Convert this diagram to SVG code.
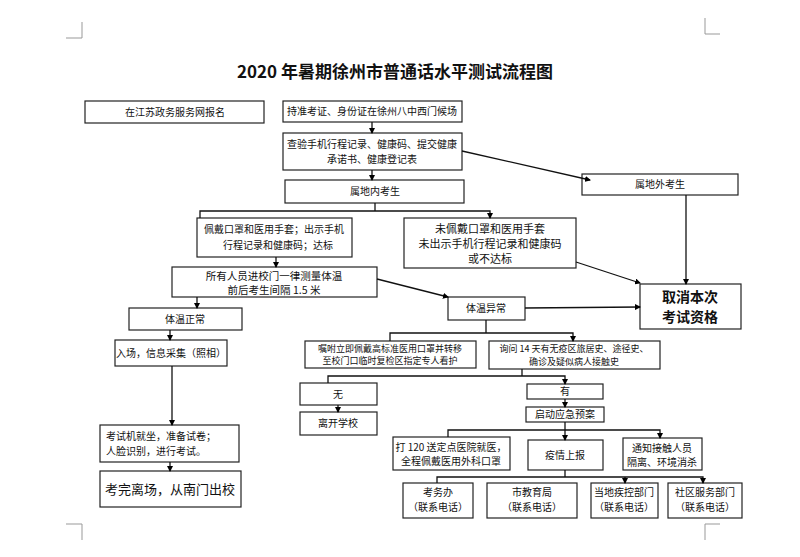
<svg xmlns="http://www.w3.org/2000/svg" width="800" height="557" viewBox="0 0 800 557">
<defs>
<marker id="ah" markerWidth="6" markerHeight="6" refX="5" refY="3" orient="auto" markerUnits="userSpaceOnUse"><path d="M0,0 L6,3 L0,6 z" fill="#000"/></marker>
<style>
rect{fill:#fff;stroke:#222;stroke-width:1.2}
text{font-family:"Noto Sans CJK SC","Liberation Sans",sans-serif;font-size:10px;fill:#111;text-anchor:middle}
.c line,.c polyline{stroke:#111;stroke-width:1.3;fill:none}
.a{marker-end:url(#ah)}
</style>
</defs>
<rect x="0" y="0" width="800" height="557" style="fill:#fff;stroke:none"/>
<g stroke="#999" fill="none" stroke-width="1"><path d="M82,22 V38 H66"/><path d="M705,18 V34 H720"/><path d="M705,540 V524 H720"/><path d="M82,540 V524 H66"/></g>
<text x="395" y="78" style="font-size:17px;font-weight:bold">2020 年暑期徐州市普通话水平测试流程图</text>
<g id="n1"><rect x="85" y="101" width="179" height="22"/><text x="175" y="116">在江苏政务服务网报名</text></g>
<g id="n2"><rect x="283" y="101" width="179" height="21"/><text x="372" y="115">持准考证、身份证在徐州八中西门候场</text></g>
<g id="n3"><rect x="283" y="133" width="179" height="37"/><text x="372" y="148">查验手机行程记录、健康码、提交健康</text><text x="372" y="163">承诺书、健康登记表</text></g>
<g id="n4"><rect x="285" y="180" width="179" height="23"/><text x="375" y="195">属地内考生</text></g>
<g id="n5"><rect x="197" y="218" width="155" height="39"/><text x="274" y="233">佩戴口罩和医用手套；出示手机</text><text x="278" y="249">行程记录和健康码；达标</text></g>
<g id="n6"><rect x="404" y="218" width="172" height="50"/><text x="490" y="233" style="font-size:11px">未佩戴口罩和医用手套</text><text x="490" y="248" style="font-size:11px">未出示手机行程记录和健康码</text><text x="490" y="263" style="font-size:11px">或不达标</text></g>
<g id="n7"><rect x="582" y="174" width="156" height="21"/><text x="660" y="188">属地外考生</text></g>
<g id="n8"><rect x="640" y="284" width="101" height="45"/><text x="690" y="302" style="font-size:14px;font-weight:bold">取消本次</text><text x="690" y="322" style="font-size:14px;font-weight:bold">考试资格</text></g>
<g id="n9"><rect x="172" y="267" width="205" height="30"/><text x="274" y="280" style="font-size:10.5px">所有人员进校门一律测量体温</text><text x="274" y="294" style="font-size:10.5px">前后考生间隔 1.5 米</text></g>
<g id="n10"><rect x="448" y="297" width="77" height="23"/><text x="486" y="312">体温异常</text></g>
<g id="n11"><rect x="129" y="308" width="113" height="22"/><text x="185" y="323">体温正常</text></g>
<g id="n12"><rect x="115" y="340" width="112" height="26"/><text x="171" y="357">入场，信息采集（照相）</text></g>
<g id="n13"><rect x="100" y="425" width="139" height="37"/><text x="106" y="440" style="text-anchor:start">考试机就坐，准备试卷；</text><text x="106" y="455" style="text-anchor:start">人脸识别，进行考试。</text></g>
<g id="n14"><rect x="100" y="471" width="141" height="36"/><text x="170" y="494" style="font-size:13px">考完离场，从南门出校</text></g>
<g id="n15"><rect x="305" y="341" width="171" height="27"/><text x="390" y="352" style="font-size:9px">嘱咐立即佩戴高标准医用口罩并转移</text><text x="390" y="364" style="font-size:9px">至校门口临时复检区指定专人看护</text></g>
<g id="n16"><rect x="489" y="341" width="171" height="28"/><text x="574" y="352" style="font-size:9px">询问 14 天有无疫区旅居史、途径史、</text><text x="574" y="365" style="font-size:9px">确诊及疑似病人接触史</text></g>
<g id="n17"><rect x="300" y="383" width="77" height="22"/><text x="338" y="398">无</text></g>
<g id="n18"><rect x="300" y="412" width="77" height="23"/><text x="338" y="427">离开学校</text></g>
<g id="n19"><rect x="527" y="384" width="76" height="15"/><text x="565" y="395">有</text></g>
<g id="n20"><rect x="526" y="407" width="78" height="15"/><text x="565" y="418">启动应急预案</text></g>
<g id="n21"><rect x="393" y="437" width="117" height="33"/><text x="451" y="451">打 120 送定点医院就医，</text><text x="451" y="465">全程佩戴医用外科口罩</text></g>
<g id="n22"><rect x="528" y="440" width="75" height="30"/><text x="565" y="459">疫情上报</text></g>
<g id="n23"><rect x="623" y="438" width="79" height="32"/><text x="662" y="452">通知接触人员</text><text x="662" y="466">隔离、环境消杀</text></g>
<g id="n24"><rect x="403" y="483" width="70" height="35"/><text x="438" y="496">考务办</text><text x="438" y="511">（联系电话）</text></g>
<g id="n25"><rect x="487" y="483" width="90" height="35"/><text x="532" y="496">市教育局</text><text x="532" y="511">（联系电话）</text></g>
<g id="n26"><rect x="591" y="483" width="67" height="35"/><text x="624" y="496">当地疾控部门</text><text x="624" y="511">（联系电话）</text></g>
<g id="n27"><rect x="668" y="483" width="74" height="35"/><text x="705" y="496">社区服务部门</text><text x="705" y="511">（联系电话）</text></g>
<g class="c">
<line class="a" x1="372" y1="122" x2="372" y2="133"/>
<line class="a" x1="372" y1="170" x2="372" y2="180"/>
<line class="a" x1="462" y1="151" x2="590" y2="180"/>
<line x1="375" y1="203" x2="375" y2="211"/>
<polyline class="a" points="200,218 200,211 490,211 490,218"/>
<line class="a" x1="276" y1="257" x2="276" y2="267"/>
<line class="a" x1="686" y1="195" x2="686" y2="284"/>
<line class="a" x1="576" y1="262" x2="640" y2="283"/>
<line class="a" x1="377" y1="279" x2="448" y2="297"/>
<line class="a" x1="525" y1="308" x2="640" y2="307"/>
<line class="a" x1="197" y1="297" x2="197" y2="308"/>
<line class="a" x1="170" y1="330" x2="170" y2="340"/>
<line class="a" x1="172" y1="366" x2="172" y2="425"/>
<line class="a" x1="170" y1="462" x2="170" y2="471"/>
<line x1="486" y1="320" x2="486" y2="333"/>
<polyline class="a" points="390,341 390,333 573,333 573,341"/>
<line x1="522" y1="369" x2="522" y2="376"/>
<polyline class="a" points="328,383 328,376 565,376 565,384"/>
<line class="a" x1="338" y1="405" x2="338" y2="412"/>
<line class="a" x1="565" y1="399" x2="565" y2="407"/>
<line class="a" x1="565" y1="422" x2="565" y2="440"/>
<polyline class="a" points="448,437 448,430 660,430 660,438"/>
<line x1="565" y1="470" x2="565" y2="477"/>
<polyline class="a" points="437,483 437,477 703,477 703,483"/>
<line class="a" x1="625" y1="477" x2="625" y2="483"/>
</g>
</svg>
